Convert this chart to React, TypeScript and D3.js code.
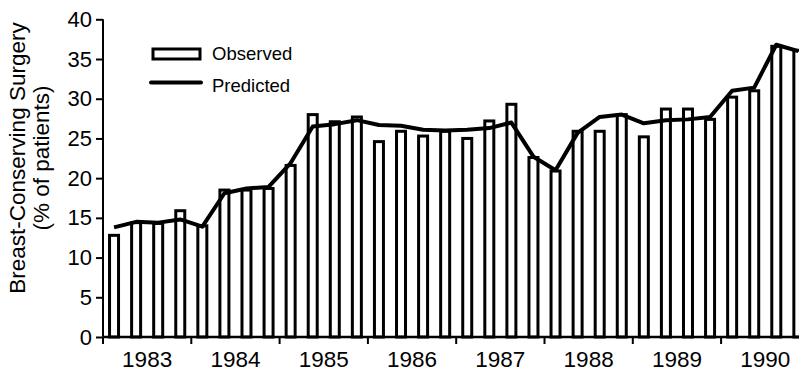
import { useEffect, useRef } from 'react';
import * as d3 from 'd3';

const years = [1983, 1984, 1985, 1986, 1987, 1988, 1989, 1990];
const quarters = ['Q1', 'Q2', 'Q3', 'Q4'];
// observed share of patients with breast-conserving surgery, per quarter
const observed = [12.8, 14.4, 14.3, 15.9, 14.0, 18.5, 18.5, 18.7, 21.6, 28.0, 27.1, 27.7, 24.6, 25.9, 25.3, 25.9, 25.0, 27.2, 29.3, 22.6, 20.9, 25.9, 25.9, 28.0, 25.2, 28.7, 28.7, 27.4, 30.2, 31.0, 36.6, 36.1];
// model prediction, per quarter
const predicted = [13.8, 14.5, 14.4, 14.8, 13.9, 18.1, 18.7, 18.9, 21.9, 26.5, 26.8, 27.3, 26.7, 26.6, 26.1, 26.0, 26.1, 26.3, 27.0, 22.7, 21.0, 25.7, 27.7, 28.0, 26.9, 27.3, 27.4, 27.7, 31.0, 31.4, 36.8, 36.0];
const yTicks = [0, 5, 10, 15, 20, 25, 30, 35, 40];

const W = 799;
const H = 372;
const FONT = '"Liberation Sans", Arial, sans-serif';

export default function App() {
    const svgRef = useRef<SVGSVGElement>(null);

    useEffect(() => {
        if (!svgRef.current) return;
        const svg = d3.select(svgRef.current);
        svg.selectAll('*').remove();

        const left = 103;
        const yearW = 88.3;
        const periods = years.flatMap((yr) => quarters.map((q) => `${yr} ${q}`));

        const x = d3.scaleBand<string>()
            .domain(periods)
            .range([left, left + yearW * years.length]);
        const y = d3.scaleLinear().domain([0, 40]).range([337, 19.3]);
        const bw = 9;
        const cx = (p: string) => x(p)! + x.bandwidth() / 2;

        // bars
        svg.append('g')
            .selectAll('rect')
            .data(periods)
            .join('rect')
            .attr('x', (p) => cx(p) - bw / 2)
            .attr('y', (_, i) => y(observed[i]))
            .attr('width', bw)
            .attr('height', (_, i) => y(0) - y(observed[i]))
            .attr('fill', '#fff')
            .attr('stroke', '#000')
            .attr('stroke-width', 3);

        // predicted line
        const line = d3.line<number>()
            .x((_, i) => cx(periods[i]))
            .y((d) => y(d));
        svg.append('path')
            .datum(predicted)
            .attr('d', line)
            .attr('fill', 'none')
            .attr('stroke', '#000')
            .attr('stroke-width', 4)
            .attr('stroke-linejoin', 'round');

        // y axis
        const yAxis = d3.axisLeft(y).tickValues(yTicks).tickSize(7).tickPadding(4).tickSizeOuter(0);
        const gy = svg.append('g')
            .attr('transform', `translate(${left},0)`)
            .call(yAxis);
        gy.select('.domain').attr('stroke-width', 2).attr('d', `M0,${y(40)}V343`);
        gy.selectAll('.tick line').attr('stroke-width', 2);
        gy.selectAll('.tick text')
            .attr('font-family', FONT)
            .attr('font-size', 22)
            .attr('fill', '#000');

        // x axis
        svg.append('line')
            .attr('x1', left)
            .attr('x2', W)
            .attr('y1', y(0))
            .attr('y2', y(0))
            .attr('stroke', '#000')
            .attr('stroke-width', 2.5);
        const gx = svg.append('g');
        years.forEach((yr) => {
            const x0 = x(`${yr} Q1`)!;
            gx.append('line')
                .attr('x1', x0).attr('x2', x0)
                .attr('y1', y(0)).attr('y2', y(0) + 7)
                .attr('stroke', '#000')
                .attr('stroke-width', 2);
            gx.append('text')
                .attr('x', x0 + yearW / 2)
                .attr('y', 367)
                .attr('text-anchor', 'middle')
                .attr('font-family', FONT)
                .attr('font-size', 22.5)
                .text(yr);
        });

        // y title
        const title = svg.append('text')
            .attr('transform', `translate(25,${158}) rotate(-90)`)
            .attr('text-anchor', 'middle')
            .attr('font-family', FONT)
            .attr('font-size', 22.5);
        title.append('tspan').attr('x', 0).attr('dy', 0).text('Breast-Conserving Surgery');
        title.append('tspan').attr('x', 0).attr('dy', 24).text('(% of patients)');

        // legend
        const lg = svg.append('g');
        lg.append('rect')
            .attr('x', 153).attr('y', 49)
            .attr('width', 47).attr('height', 10)
            .attr('fill', '#fff')
            .attr('stroke', '#000')
            .attr('stroke-width', 3);
        lg.append('text')
            .attr('x', 212).attr('y', 60)
            .attr('font-family', FONT)
            .attr('font-size', 18.5)
            .text('Observed');
        lg.append('line')
            .attr('x1', 151).attr('x2', 201)
            .attr('y1', 82.5).attr('y2', 82.5)
            .attr('stroke', '#000')
            .attr('stroke-width', 4)
            .attr('stroke-linecap', 'round');
        lg.append('text')
            .attr('x', 212).attr('y', 92)
            .attr('font-family', FONT)
            .attr('font-size', 18.5)
            .text('Predicted');
    }, []);

    return (
        <svg ref={svgRef} width={W} height={H} style={{ position: 'absolute', left: 0, top: 0, background: '#fff' }}></svg>
    );
}
